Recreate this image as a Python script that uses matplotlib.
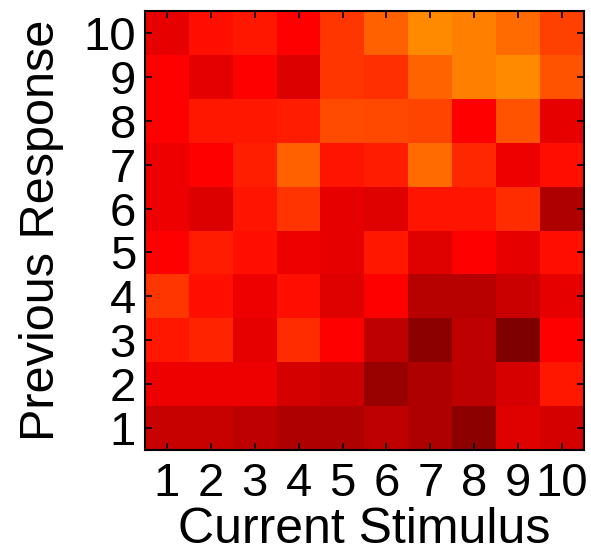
import numpy as np
import matplotlib
matplotlib.use("Agg")
import matplotlib.pyplot as plt

# ── Data ──────────────────────────────────────────────────────────────────────
# values on the 'hot' colormap scale (0..1); rows = previous response 1..10,
# columns = current stimulus 1..10

stimulus = [1, 2, 3, 4, 5, 6, 7, 8, 9, 10]
response = [1, 2, 3, 4, 5, 6, 7, 8, 9, 10]

resp_1  = [0.283, 0.283, 0.271, 0.247, 0.247, 0.271, 0.247, 0.199, 0.319, 0.301]
resp_2  = [0.343, 0.343, 0.343, 0.301, 0.289, 0.211, 0.247, 0.271, 0.307, 0.401]
resp_3  = [0.401, 0.419, 0.331, 0.431, 0.365, 0.271, 0.199, 0.271, 0.175, 0.365]
resp_4  = [0.449, 0.389, 0.343, 0.389, 0.319, 0.365, 0.259, 0.259, 0.289, 0.331]
resp_5  = [0.365, 0.407, 0.389, 0.343, 0.331, 0.401, 0.319, 0.365, 0.331, 0.389]
resp_6  = [0.343, 0.313, 0.395, 0.443, 0.331, 0.319, 0.395, 0.395, 0.431, 0.247]
resp_7  = [0.343, 0.365, 0.413, 0.508, 0.395, 0.407, 0.526, 0.425, 0.343, 0.389]
resp_8  = [0.365, 0.401, 0.401, 0.407, 0.479, 0.473, 0.467, 0.365, 0.491, 0.331]
resp_9  = [0.365, 0.325, 0.365, 0.313, 0.449, 0.437, 0.514, 0.556, 0.574, 0.491]
resp_10 = [0.331, 0.389, 0.401, 0.365, 0.449, 0.508, 0.574, 0.556, 0.526, 0.461]

matrix = np.array([resp_1, resp_2, resp_3, resp_4, resp_5,
                   resp_6, resp_7, resp_8, resp_9, resp_10])

# ── Plot ──────────────────────────────────────────────────────────────────────

plt.rcParams['font.family'] = ['Liberation Sans', 'DejaVu Sans']

fig = plt.figure(figsize=(5.91, 5.55), dpi=100)
ax = fig.add_axes([145 / 591, 105 / 555, 439 / 591, 439 / 555])

ax.imshow(matrix, cmap='hot', vmin=0, vmax=1, origin='lower',
          interpolation='nearest', aspect='auto',
          extent=(0.5, len(stimulus) + 0.5, 0.5, len(response) + 0.5))

ax.set_xticks(stimulus)
ax.set_xticklabels([str(s) for s in stimulus])
ax.set_yticks(response)
ax.set_yticklabels([str(r) for r in response])
ax.tick_params(direction='in', length=5, width=1.2, top=True, right=True,
               labelsize=34, colors='black')
ax.tick_params(axis='x', pad=8.5)
ax.tick_params(axis='y', pad=6.5)

for sp in ax.spines.values():
    sp.set_linewidth(1.5)
    sp.set_color('black')

ax.set_xlabel("Current Stimulus", fontsize=36, labelpad=1)
ax.set_ylabel("Previous Response", fontsize=35, labelpad=14)

fig.savefig("out.png", dpi=100)
